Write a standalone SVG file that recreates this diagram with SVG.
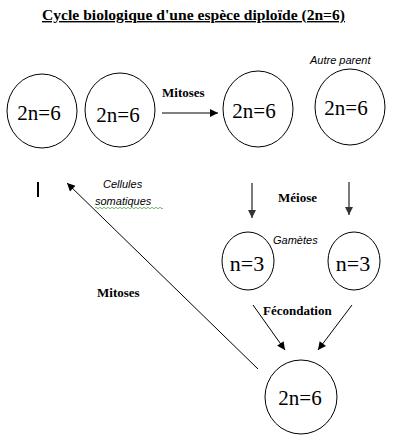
<svg xmlns="http://www.w3.org/2000/svg" width="405" height="447" viewBox="0 0 405 447">
<defs>
<style>
.cell{fill:none;stroke:#000;stroke-width:1}
.num{font-family:'Liberation Serif',serif;font-size:21px;fill:#000;text-anchor:middle}
.bld{font-family:'Liberation Serif',serif;font-size:13px;font-weight:bold;fill:#000}
.ita{font-family:'Liberation Sans',sans-serif;font-size:11px;font-style:italic;fill:#000}
.conn{stroke:#000;stroke-width:1;fill:none;marker-end:url(#ah)}
.gray{stroke:#333;stroke-width:1.3;fill:none;marker-end:url(#ahg)}
</style>
<marker id="ah" viewBox="0 0 10 10" refX="10" refY="5" markerWidth="10" markerHeight="8" markerUnits="userSpaceOnUse" orient="auto"><path d="M0,0 L10,5 L0,10 z" fill="#000"/></marker>
<marker id="ahg" viewBox="0 0 10 10" refX="10" refY="5" markerWidth="10" markerHeight="8" markerUnits="userSpaceOnUse" orient="auto"><path d="M0,0 L10,5 L0,10 z" fill="#333"/></marker>
</defs>
<rect width="405" height="447" fill="#fff"/>
<g id="title">
<text x="42" y="20" font-family="Liberation Serif, serif" font-size="14" font-weight="bold" text-decoration="underline" textLength="303" lengthAdjust="spacingAndGlyphs">Cycle biologique d'une espèce diploïde (2n=6)</text>
</g>
<g id="cell1"><ellipse class="cell" cx="42" cy="111" rx="35" ry="37"/><text class="num" font-family="Liberation Serif, serif" x="39" y="120">2n=6</text></g>
<g id="cell2"><ellipse class="cell" cx="120" cy="110" rx="35" ry="37"/><text class="num" font-family="Liberation Serif, serif" x="118" y="122">2n=6</text></g>
<g id="cell3"><ellipse class="cell" cx="258" cy="109" rx="35" ry="38"/><text class="num" font-family="Liberation Serif, serif" x="254" y="118">2n=6</text></g>
<g id="cell4"><ellipse class="cell" cx="350" cy="107" rx="35" ry="38"/><text class="num" font-family="Liberation Serif, serif" x="346" y="115">2n=6</text><text class="ita" font-family="Liberation Sans, sans-serif" x="310" y="64">Autre parent</text></g>
<g id="gamete1"><ellipse class="cell" cx="248" cy="261" rx="26" ry="29"/><text class="num" font-family="Liberation Serif, serif" x="247" y="271" style="font-size:22px">n=3</text></g>
<g id="gamete2"><ellipse class="cell" cx="354" cy="261" rx="26" ry="29"/><text class="num" font-family="Liberation Serif, serif" x="353" y="271" style="font-size:22px">n=3</text></g>
<g id="zygote"><ellipse class="cell" cx="301" cy="397" rx="36" ry="37"/><text class="num" font-family="Liberation Serif, serif" x="300" y="405">2n=6</text></g>
<g id="connectors">
<line class="conn" x1="162" y1="113" x2="218" y2="113"/>
<line class="gray" x1="252" y1="183" x2="252" y2="218"/>
<line class="gray" x1="349" y1="182" x2="349" y2="215"/>
<line class="conn" x1="253" y1="305" x2="285" y2="350"/>
<line class="conn" x1="352" y1="305" x2="318" y2="350"/>
<line class="conn" x1="258" y1="369" x2="67" y2="183"/>
</g>
<g id="labels">
<text class="bld" font-family="Liberation Serif, serif" x="162" y="97">Mitoses</text>
<text class="bld" font-family="Liberation Serif, serif" x="278" y="202">Méiose</text>
<text class="bld" font-family="Liberation Serif, serif" x="263" y="315">Fécondation</text>
<text class="bld" font-family="Liberation Serif, serif" x="97" y="297">Mitoses</text>
<text class="ita" font-family="Liberation Sans, sans-serif" x="273" y="244">Gamètes</text>
<text class="ita" font-family="Liberation Sans, sans-serif" x="103" y="188">Cellules</text>
<text class="ita" font-family="Liberation Sans, sans-serif" x="95" y="205">somatiques</text>
<path d="M95,208 q1,-1.5 2,0 t2,0 t2,0 t2,0 t2,0 t2,0 t2,0 t2,0 t2,0 t2,0 t2,0 t2,0 t2,0 t2,0 t2,0 t2,0 t2,0 t2,0 t2,0 t2,0 t2,0 t2,0 t2,0 t2,0 t2,0 t2,0 t2,0 t2,0 t2,0 t2,0 t2,0 t2,0 t2,0 t2,0" fill="none" stroke="#4a4" stroke-width="0.8"/>
<line x1="38" y1="182" x2="38" y2="197" stroke="#000" stroke-width="2"/>
</g>
</svg>
